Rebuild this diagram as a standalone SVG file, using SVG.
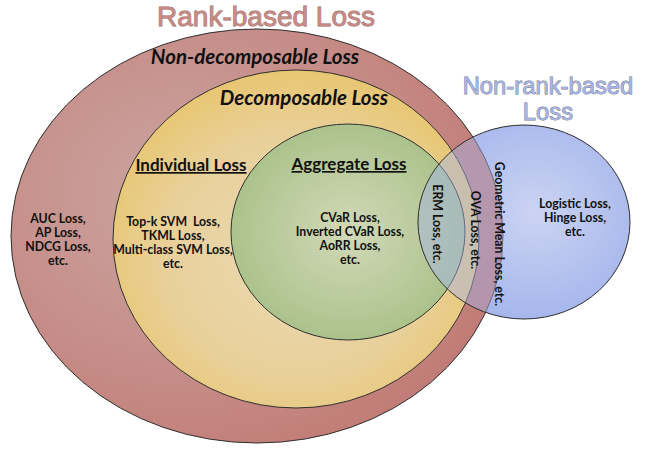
<svg xmlns="http://www.w3.org/2000/svg" width="652" height="451" viewBox="0 0 652 451">
<defs>
<radialGradient id="gRed" cx="0.35" cy="0.4" r="0.7">
<stop offset="0" stop-color="#cba5a1"/><stop offset="0.6" stop-color="#c68d88"/><stop offset="1" stop-color="#c17a75"/>
</radialGradient>
<radialGradient id="gYel" cx="0.5" cy="0.55" r="0.6">
<stop offset="0" stop-color="#ead9b4"/><stop offset="0.6" stop-color="#e9d09a"/><stop offset="1" stop-color="#e7c467"/>
</radialGradient>
<radialGradient id="gGrn" cx="0.5" cy="0.5" r="0.55">
<stop offset="0" stop-color="#d2d9b8"/><stop offset="1" stop-color="#a8c087"/>
</radialGradient>
<radialGradient id="gBlu" cx="0.55" cy="0.45" r="0.6">
<stop offset="0" stop-color="#eceef9"/><stop offset="1" stop-color="#a2b5ec"/>
</radialGradient>
<style>
.ring{stroke:#2f2f2f;stroke-width:1}
.lab{font-family:Lato,"Open Sans",sans-serif;font-weight:bold;font-size:12.3px;fill:#111;text-anchor:middle}
.head{font-family:Lato,"Open Sans",sans-serif;font-weight:bold;font-style:italic;font-size:20.5px;fill:#111;text-anchor:middle}
.sub{font-family:Lato,"Open Sans",sans-serif;font-weight:bold;font-size:17px;fill:#111;text-anchor:middle;text-decoration:underline}
.big{font-family:"Liberation Sans",Arial,sans-serif;text-anchor:middle;stroke-width:0.8;paint-order:stroke}
</style>
</defs>
<rect width="652" height="451" fill="#ffffff"/>
<g id="blue-under"><ellipse cx="524" cy="222" rx="106" ry="97" fill="url(#gBlu)"/></g>
<g id="rank-based">
<ellipse class="ring" cx="257" cy="236" rx="246" ry="207" fill="url(#gRed)"/>
<text class="big" x="266" y="26" font-size="28" fill="#c98a84" stroke="#8a625e">Rank-based Loss</text>
<text class="head" x="255" y="64">Non-decomposable Loss</text>
<text class="lab" x="58" y="223">AUC Loss,</text>
<text class="lab" x="58" y="237">AP Loss,</text>
<text class="lab" x="58" y="251">NDCG Loss,</text>
<text class="lab" x="58" y="265">etc.</text>
</g>
<g id="decomposable">
<ellipse class="ring" cx="296" cy="239" rx="183" ry="169" fill="url(#gYel)"/>
<text class="head" x="304" y="105">Decomposable Loss</text>
</g>
<g id="individual">
<text class="sub" x="191" y="171">Individual Loss</text>
<text class="lab" x="173" y="226" xml:space="preserve">Top-k SVM  Loss,</text>
<text class="lab" x="173" y="240">TKML Loss,</text>
<text class="lab" x="173" y="254">Multi-class SVM Loss,</text>
<text class="lab" x="173" y="268">etc.</text>
</g>
<g id="aggregate">
<ellipse class="ring" cx="348" cy="232" rx="117" ry="108" fill="url(#gGrn)"/>
<text class="sub" x="349" y="170">Aggregate Loss</text>
<text class="lab" x="350" y="222">CVaR Loss,</text>
<text class="lab" x="350" y="236">Inverted CVaR Loss,</text>
<text class="lab" x="350" y="250">AoRR Loss,</text>
<text class="lab" x="350" y="264">etc.</text>
</g>
<g id="non-rank-based">
<ellipse class="ring" cx="524" cy="222" rx="106" ry="97" fill="#a4b4ea" fill-opacity="0.45"/>
<text class="big" x="548" y="94" font-size="23.8" fill="#a6b5e6" stroke="#6f6f7e">Non-rank-based</text>
<text class="big" x="548" y="120" font-size="23.8" fill="#a6b5e6" stroke="#6f6f7e">Loss</text>
<text class="lab" x="575" y="208">Logistic Loss,</text>
<text class="lab" x="575" y="222">Hinge Loss,</text>
<text class="lab" x="575" y="236">etc.</text>
</g>
<g id="overlap-labels">
<text class="lab" transform="translate(433 224) rotate(90)">ERM Loss, etc.</text>
<text class="lab" transform="translate(471 230) rotate(90)">OVA Loss, etc.</text>
<text class="lab" transform="translate(495 234) rotate(90)">Geometric Mean Loss, etc.</text>
</g>
</svg>
